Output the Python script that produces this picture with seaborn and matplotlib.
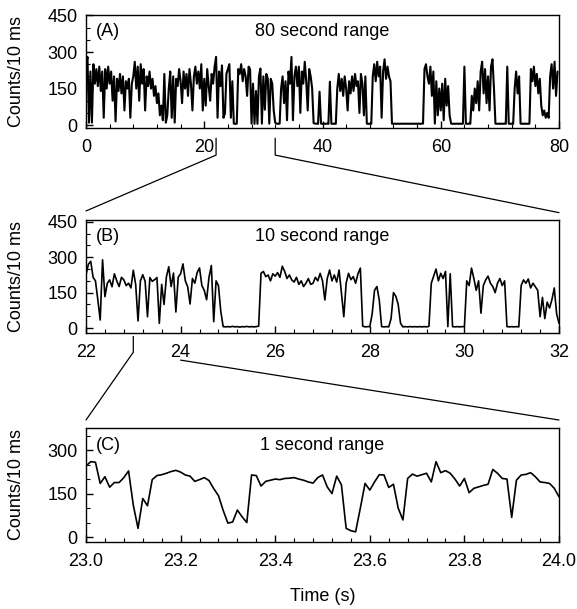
import numpy as np
import matplotlib
matplotlib.use("Agg")
import matplotlib.pyplot as plt
import seaborn as sns
from matplotlib.lines import Line2D
from matplotlib.ticker import MultipleLocator, FuncFormatter
from matplotlib.transforms import blended_transform_factory

# --- data (counts per 10 ms bin) ---
# panel A: 0-80 s, one value every 0.25 s
a_step = 0.25
a_counts = [
    240, 280, 10, 220, 10, 250, 170, 230, 160, 240, 140, 220, 30, 230, 150, 240, 170, 220, 100, 200,
    15, 190, 140, 210, 130, 200, 60, 180, 150, 190, 30, 170, 200, 260, 150, 240, 100, 250, 170, 230,
    60, 200, 160, 220, 150, 190, 120, 160, 90, 130, 40, 80, 20, 210, 10, 40, 150, 220, 30, 200,
    10, 190, 160, 230, 180, 90, 220, 150, 210, 120, 230, 170, 60, 200, 240, 170, 220, 150, 250, 60,
    190, 80, 230, 160, 100, 210, 170, 240, 280, 30, 220, 160, 245, 30, 48, 210, 230, 250, 30, 180,
    6, 5, 6, 230, 210, 250, 180, 230, 200, 120, 240, 230, 6, 170, 5, 140, 5, 200, 232, 6,
    200, 63, 210, 190, 6, 190, 170, 60, 10, 6, 5, 6, 150, 200, 90, 180, 20, 220, 170, 280,
    20, 200, 240, 160, 240, 50, 220, 170, 260, 180, 60, 230, 200, 150, 8, 6, 6, 5, 137, 6,
    5, 6, 5, 6, 5, 178, 6, 5, 6, 5, 150, 210, 140, 190, 120, 200, 150, 60, 180, 130,
    200, 140, 210, 160, 180, 50, 210, 170, 40, 200, 6, 5, 6, 5, 200, 250, 180, 260, 200, 240,
    30, 220, 270, 190, 240, 200, 180, 6, 5, 6, 5, 6, 5, 6, 5, 6, 5, 6, 5, 6,
    5, 6, 5, 6, 5, 6, 5, 6, 6, 230, 250, 200, 170, 240, 120, 220, 6, 180, 40, 150,
    60, 170, 20, 190, 80, 160, 40, 6, 5, 6, 5, 6, 5, 6, 5, 6, 240, 6, 5, 6,
    5, 120, 60, 150, 90, 180, 60, 220, 260, 130, 230, 90, 200, 60, 240, 270, 150, 6, 5, 6,
    5, 6, 5, 6, 5, 240, 6, 5, 6, 5, 150, 220, 130, 200, 6, 5, 6, 5, 6, 5,
    6, 230, 180, 240, 160, 210, 130, 190, 80, 40, 60, 30, 50, 30, 200, 250, 150, 260, 120, 220,
]

# panel B: 22-32 s, one value every 0.05 s
b_start, b_step = 22.0, 0.05
b_counts = [
    225, 270, 283, 215, 200, 120, 34, 289, 133, 190, 204, 175, 230, 200, 176, 215, 204, 180, 190, 170,
    245, 185, 30, 200, 226, 198, 48, 214, 198, 205, 214, 20, 185, 100, 217, 260, 176, 233, 68, 216,
    230, 272, 200, 175, 102, 210, 190, 235, 255, 180, 160, 120, 215, 265, 27, 200, 180, 70, 6, 5,
    6, 5, 7, 5, 6, 4, 6, 5, 7, 5, 6, 5, 6, 8, 232, 240, 218, 225, 200, 230,
    220, 235, 215, 262, 240, 210, 225, 204, 195, 215, 185, 200, 176, 190, 210, 185, 190, 215, 200, 232,
    200, 119, 210, 246, 200, 225, 195, 246, 150, 48, 190, 232, 205, 218, 190, 230, 254, 8, 5, 6,
    6, 60, 160, 176, 119, 6, 5, 6, 5, 40, 150, 135, 100, 20, 5, 6, 5, 6, 5, 6,
    5, 6, 5, 6, 5, 7, 190, 220, 250, 200, 232, 210, 240, 6, 230, 6, 5, 6, 5, 6,
    6, 200, 180, 254, 210, 160, 200, 63, 180, 204, 220, 190, 176, 150, 190, 210, 180, 200, 6, 5,
    6, 5, 6, 5, 180, 204, 190, 208, 170, 190, 175, 160, 48, 130, 40, 110, 85, 120, 170, 60,
    20,
]

# panel C: 23-24 s, every 10 ms bin
c_start, c_step = 23.0, 0.01
c_counts = [
    245, 260, 258, 185, 208, 172, 188, 188, 205, 228, 110, 30, 133, 108, 198, 212, 215, 220, 226, 230,
    224, 214, 210, 192, 198, 205, 195, 167, 143, 92, 48, 52, 93, 70, 50, 214, 212, 176, 192, 196,
    200, 198, 202, 203, 205, 200, 196, 190, 186, 205, 214, 173, 150, 210, 180, 30, 22, 18, 100, 185,
    162, 190, 215, 214, 171, 182, 100, 59, 202, 217, 210, 215, 220, 190, 260, 222, 229, 220, 200, 176,
    202, 153, 168, 173, 178, 182, 233, 220, 202, 200, 68, 196, 214, 216, 222, 208, 190, 188, 185, 168,
    139,
]

panel_tags = ["(A)", "(B)", "(C)"]
panel_titles = ["80 second range", "10 second range", "1 second range"]
y_label = "Counts/10 ms"
x_label = "Time (s)"

a_time = np.arange(len(a_counts)) * a_step
b_time = b_start + np.arange(len(b_counts)) * b_step
c_time = c_start + np.arange(len(c_counts)) * c_step

sns.set_style("ticks")
plt.rcParams['font.family'] = ['Liberation Sans', 'DejaVu Sans']
plt.rcParams['font.size'] = 13
plt.rcParams['text.color'] = 'black'
plt.rcParams['axes.labelcolor'] = 'black'
plt.rcParams['xtick.color'] = 'black'
plt.rcParams['ytick.color'] = 'black'

fig = plt.figure(figsize=(5.77, 6.09), dpi=100)
W, H = 577, 609


def add_panel(top, bottom):
    return fig.add_axes([86 / W, 1 - bottom / H, 473 / W, (bottom - top) / H])


axA = add_panel(15, 128)
axB = add_panel(220, 333)
axC = add_panel(428, 542)

sns.lineplot(x=a_time, y=a_counts, ax=axA, color='black', linewidth=1.5)
sns.lineplot(x=b_time, y=b_counts, ax=axB, color='black', linewidth=1.2)
sns.lineplot(x=c_time, y=c_counts, ax=axC, color='black', linewidth=1.2)

settings = [
    (axA, (0, 80), (-12, 452), 20, 4, [0, 150, 300, 450], "{:.0f}"),
    (axB, (22, 32), (-21, 458), 2, 0.4, [0, 150, 300, 450], "{:.0f}"),
    (axC, (23, 24), (-17, 376), 0.2, 0.04, [0, 150, 300], "{:.1f}"),
]

for i, (ax, xl, yl, xmaj, xmin, yt, fmt) in enumerate(settings):
    ax.set_xlim(*xl)
    ax.set_ylim(*yl)
    ax.xaxis.set_major_locator(MultipleLocator(xmaj))
    ax.xaxis.set_minor_locator(MultipleLocator(xmin))
    ax.set_yticks(yt)
    ax.yaxis.set_minor_locator(MultipleLocator(50))
    ax.xaxis.set_major_formatter(FuncFormatter(lambda v, p, f=fmt: f.format(v)))
    ax.tick_params(which='both', direction='in', top=False, right=False, labelsize=13)
    ax.tick_params(which='major', length=5, width=1)
    ax.tick_params(which='minor', length=3, width=0.8)
    ax.tick_params(axis='x', pad=8)
    ax.tick_params(axis='y', pad=6)
    for s in ax.spines.values():
        s.set_visible(True)
        s.set_linewidth(1.0)
        s.set_color('black')
    ax.set_ylabel(y_label, fontsize=13)
    ax.yaxis.set_label_coords(-0.13, 0.5)
    ax.set_xlabel("")
    ax.text(0.02, 0.85, panel_tags[i], transform=ax.transAxes, ha='left', va='center', fontsize=13)
    ax.text(0.5, 0.85, panel_titles[i], transform=ax.transAxes, ha='center', va='center', fontsize=13)

axC.set_xlabel(x_label, fontsize=13)
axC.xaxis.set_label_coords(0.5, -0.40)


def connector(ax_from, x_data, y_top, y_bot, ax_to, x_axes, y_axes):
    tr_from = blended_transform_factory(ax_from.transData, ax_from.transAxes)
    p0 = tr_from.transform((x_data, y_top))
    p1 = tr_from.transform((x_data, y_bot))
    p2 = ax_to.transAxes.transform((x_axes, y_axes))
    inv = fig.transFigure.inverted()
    pts = inv.transform(np.array([p0, p1, p2]))
    fig.add_artist(Line2D(pts[:, 0], pts[:, 1], transform=fig.transFigure,
                          color='black', linewidth=0.9))


connector(axA, 22, -0.09, -0.24, axB, 0.0, 1.08)
connector(axA, 32, -0.09, -0.24, axB, 1.0, 1.065)
connector(axB, 23, -0.03, -0.17, axC, 0.0, 1.07)
connector(axB, 24, -0.24, -0.24, axC, 1.0, 1.07)

fig.savefig("out.png", dpi=100)
